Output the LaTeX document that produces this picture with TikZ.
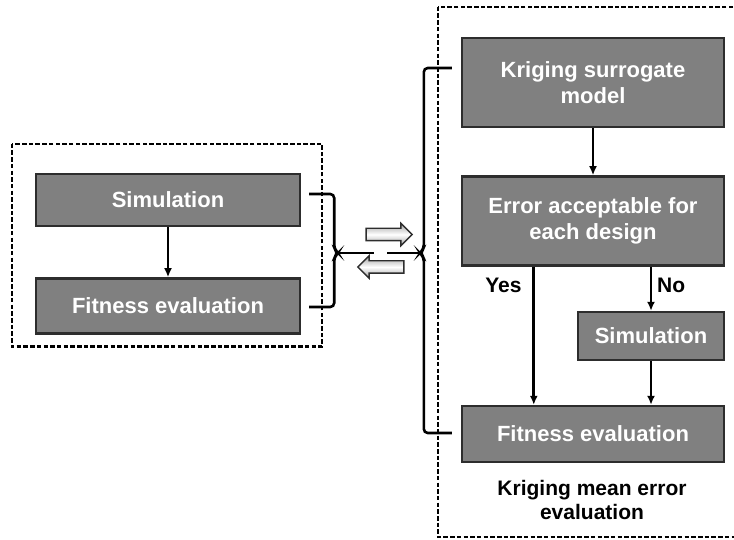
\documentclass[tikz,border=0pt]{standalone}
\usepackage{fontspec}
\setmainfont{Liberation Sans}
\usetikzlibrary{arrows.meta,positioning,calc,shapes.arrows}
\definecolor{boxgray}{RGB}{128,128,128}
\definecolor{edgegray}{RGB}{45,45,45}

\begin{document}
\begin{tikzpicture}[x=1pt,y=-1pt,
    stage/.style={draw=edgegray, line width=2.4pt, fill=boxgray, text=white, align=center, inner sep=2pt, font=\fontsize{22}{26}\selectfont\bfseries},
    tag/.style={inner sep=0pt, font=\fontsize{21}{24}\selectfont\bfseries},
    flow/.style={-{Latex[length=9pt,width=8pt]}, line width=2.6pt},
    brace/.style={line width=2.6pt, rounded corners=4pt},
    group/.style={line width=2.5pt, dash pattern=on 4.5pt off 2.2pt},
    swap/.style={single arrow, draw=edgegray, line width=1.4pt, inner xsep=0pt, inner ysep=5.5pt, minimum height=46pt, single arrow head extend=5pt, single arrow head indent=0pt, top color=gray!75, bottom color=gray!75, middle color=white}]
    \useasboundingbox (0,0) rectangle (734,540);
    \clip (0,0) rectangle (734,540);

    % plain loop
    \node[stage, minimum width=264pt, minimum height=52pt] (lsim) at (168,200) {Simulation};
    \node[stage, minimum width=264pt, minimum height=55pt, below=50pt of lsim] (lfit) {Fitness evaluation};
    \draw[flow] (lsim) -- (lfit);
    \draw[group] ($(lsim.north west)+(-23,-29)$) rectangle ($(lfit.south east)+(21,12)$);

    % surrogate loop
    \node[stage, minimum width=262pt, minimum height=89pt] (krig) at (593,82.5) {Kriging surrogate\\model};
    \node[stage, minimum width=262pt, minimum height=89pt, below=47pt of krig] (err) {Error acceptable for\\each design};
    \node[stage, minimum width=146pt, minimum height=48pt] (rsim) at (651,336) {Simulation};
    \node[stage, minimum width=262pt, minimum height=56pt] (rfit) at (593,434) {Fitness evaluation};
    \coordinate (yes) at ($(err.south west)!0.276!(err.south east)$);
    \draw[flow] (krig) -- (err);
    \draw[flow] (yes) -- (yes |- rfit.north);
    \draw[flow] (rsim.north |- err.south) -- (rsim);
    \draw[flow] (rsim) -- (rsim.south |- rfit.north);
    \node[tag, anchor=east] at ($(yes)+(-12,19)$) {Yes};
    \node[tag, anchor=west] at ($(rsim.north |- err.south)+(6,19)$) {No};
    \node[tag, align=center] (cap) at (592,500) {Kriging mean error\\evaluation};
    \draw[group] ($(krig.north west)+(-23,-30)$) rectangle ($(rfit.south east)+(30,74)$);

    % braces and exchange arrows
    \draw[brace] ($(lsim.east)+(8,-6)$) -- ++(25,0) -- ++(0,55) -- ++(4,4) coordinate (ltip) -- ++(-4,4) -- ++(0,50) -- ++(-25,0);
    \draw[line width=2.6pt] (ltip) -- ++(36,0);
    \draw[brace] ($(krig.west)+(-9,-14.5)$) -- ++(-28,0) -- ++(0,181) -- ++(-4,4) coordinate (rtip) -- ++(4,4) -- ++(0,176) -- ++(28,0);
    \draw[line width=2.6pt] (rtip) -- ++(-33,0);
    \node[swap] (fwd) at (386,234.5) {};
    \node[swap, shape border rotate=180] (bwd) at (384,267) {};
\end{tikzpicture}
\end{document}
